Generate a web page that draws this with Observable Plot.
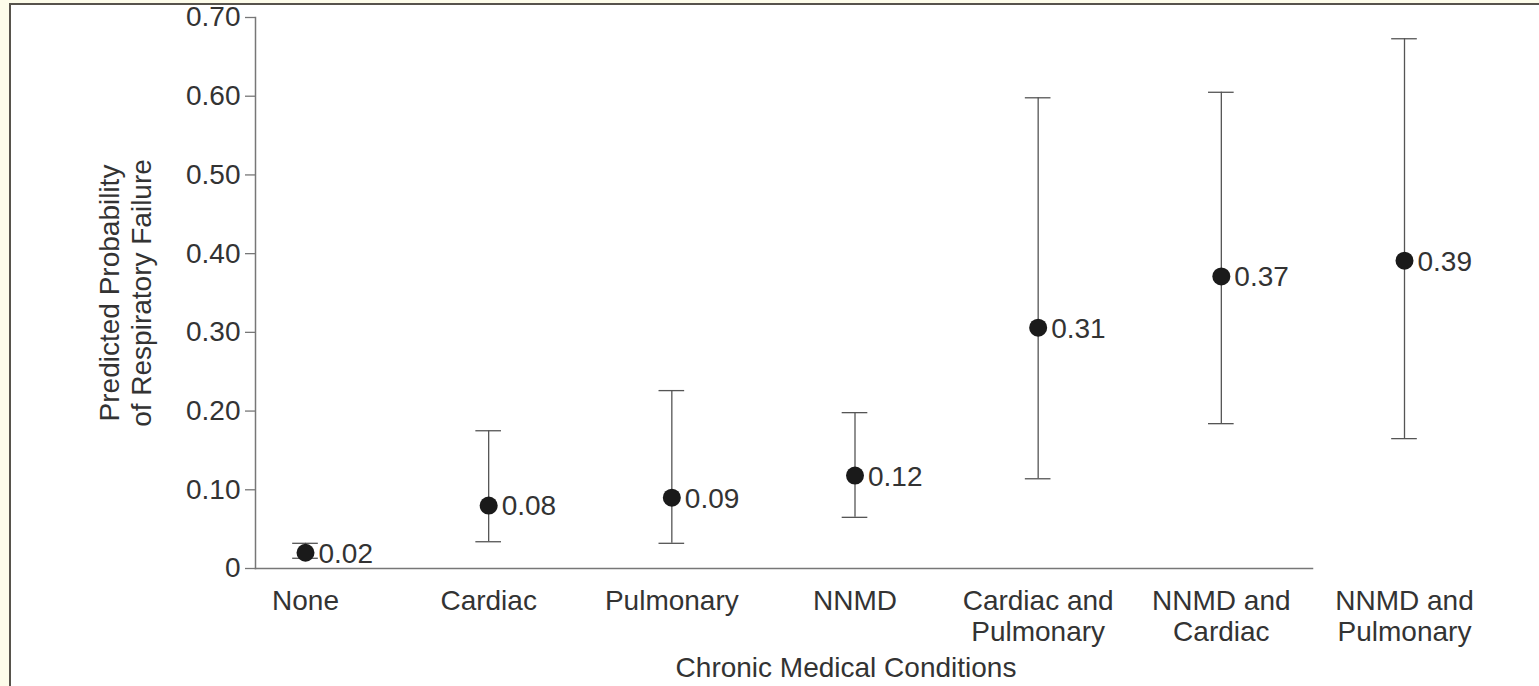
<!DOCTYPE html>
<html>
<head>
<meta charset="utf-8">
<script src="https://cdn.jsdelivr.net/npm/d3@7"></script>
<script src="https://cdn.jsdelivr.net/npm/@observablehq/plot@0.6"></script>
<style>
  html, body { margin: 0; padding: 0; background: #fdfcea; width: 1539px; height: 686px; overflow: hidden; }
  #box { position: absolute; left: 9px; top: 3px; width: 1560px; height: 720px; background: #fff;
         border-left: 2px solid #57534c; border-top: 2px solid #57534c; }
  #chart { position: absolute; left: 0; top: 0; }
</style>
</head>
<body>
<div id="box"></div>
<div id="chart"></div>
<script>
const categories = ["None", "Cardiac", "Pulmonary", "NNMD", "Cardiac and\nPulmonary", "NNMD and\nCardiac", "NNMD and\nPulmonary"];
const estimates = [0.020, 0.080, 0.090, 0.118, 0.306, 0.371, 0.391];
const lower = [0.013, 0.034, 0.032, 0.065, 0.114, 0.184, 0.165];
const upper = [0.032, 0.175, 0.226, 0.198, 0.598, 0.605, 0.673];
const valueLabels = ["0.02", "0.08", "0.09", "0.12", "0.31", "0.37", "0.39"];
const yTicks = [0, 0.1, 0.2, 0.3, 0.4, 0.5, 0.6, 0.7];
const yLabel = "Predicted Probability\nof Respiratory Failure";
const xLabel = "Chronic Medical Conditions";

const data = categories.map((c, i) => ({i, c, est: estimates[i], lo: lower[i], hi: upper[i], lab: valueLabels[i]}));
const capHalf = 0.07;
const font = "'Liberation Sans', Arial, Helvetica, sans-serif";
const ink = "#333";
const axisGray = "#777";
const fs = 28;

const chart = Plot.plot({
  width: 1539,
  height: 686,
  marginLeft: 255,
  marginRight: 227,
  marginTop: 17,
  marginBottom: 118,
  style: {background: "transparent", fontFamily: font, fontSize: fs + "px", color: ink, overflow: "visible"},
  x: {domain: [0, 6], range: [305, 1404]},
  y: {domain: [0, 0.7]},
  marks: [
    Plot.frame({anchor: "left", stroke: axisGray, strokeWidth: 1.5, strokeOpacity: 1}),
    Plot.frame({anchor: "bottom", stroke: axisGray, strokeWidth: 1.5, strokeOpacity: 1}),
    Plot.axisY({ticks: yTicks, tickFormat: d => d === 0 ? "0" : d.toFixed(2), tickSize: 10, tickPadding: 5,
                stroke: axisGray, strokeWidth: 1.3, label: null, fontSize: fs, fill: ink}),
    Plot.axisX({ticks: d3.range(categories.length), tickFormat: i => categories[i], tickSize: 0, tickPadding: 19,
                label: null, fontSize: fs, fill: ink, lineHeight: 1.12}),
    Plot.ruleX(data, {x: "i", y1: "lo", y2: "hi", stroke: "#555", strokeWidth: 1.3}),
    Plot.ruleY(data, {y: "lo", x1: d => d.i - capHalf, x2: d => d.i + capHalf, stroke: "#555", strokeWidth: 1.3}),
    Plot.ruleY(data, {y: "hi", x1: d => d.i - capHalf, x2: d => d.i + capHalf, stroke: "#555", strokeWidth: 1.3}),
    Plot.dot(data, {x: "i", y: "est", r: 9, fill: "#1a1a1a", stroke: "none"}),
    Plot.text(data, {x: "i", y: "est", text: "lab", dx: 13, dy: 1, textAnchor: "start", fontSize: fs, fill: ink}),
    Plot.text([yLabel], {frameAnchor: "left", textAnchor: "middle", dx: -131, rotate: -90, fontSize: fs, fill: ink, lineHeight: 1.14}),
    Plot.text([xLabel], {frameAnchor: "bottom", dx: 62, dy: 108, fontSize: fs, fill: ink})
  ]
});
document.getElementById("chart").appendChild(chart);
</script>
</body>
</html>
